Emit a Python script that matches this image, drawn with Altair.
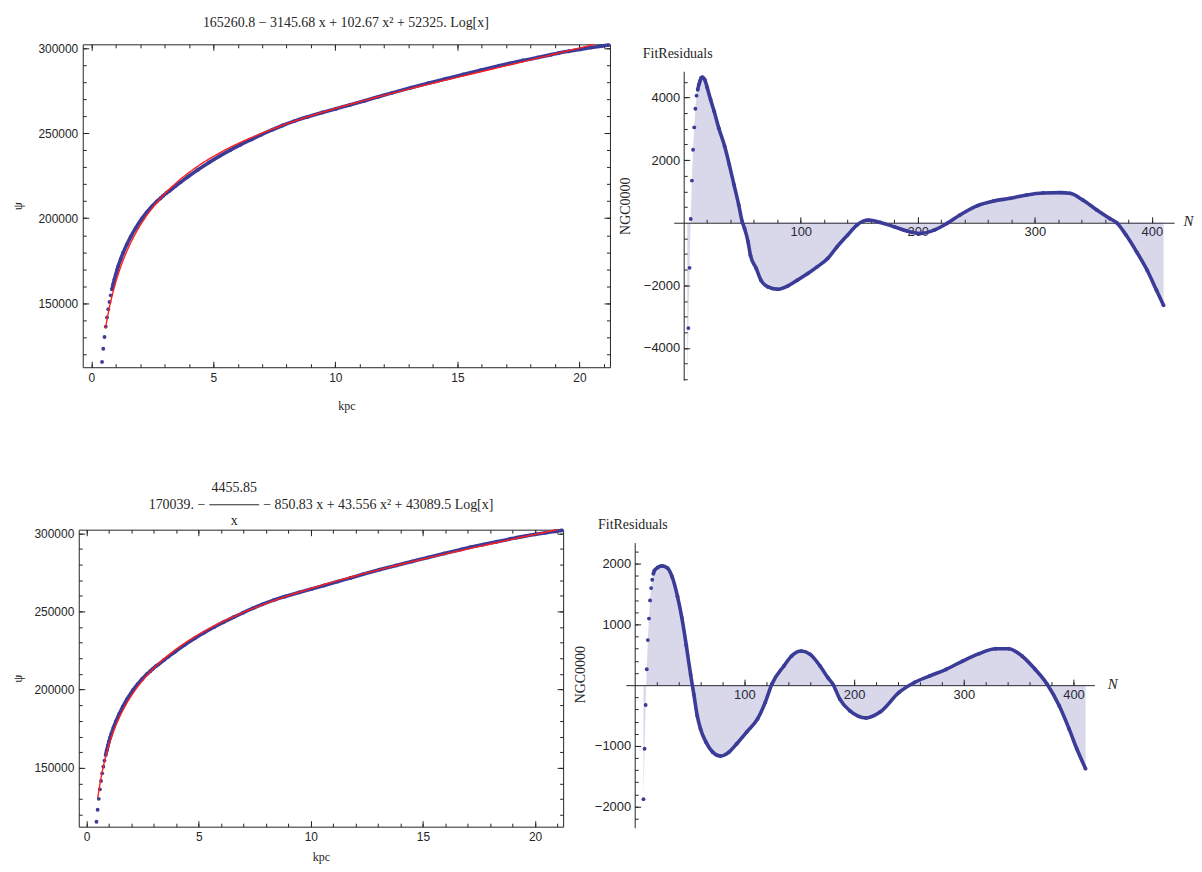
import altair as alt
import numpy as np
import pandas as pd

# ---------------- values ----------------
# FitResiduals of the upper fit: point index N and residual
res1_N = [3, 4, 5, 6, 7, 8, 9, 10, 11, 12, 13, 14, 15, 16, 18, 20, 23, 26, 30, 35,
          39, 43, 47, 50, 52, 55, 57, 62, 66, 72, 80, 89, 97, 106, 114, 123, 131, 140, 148, 158,
          168, 180, 191, 202, 214, 225, 236, 251, 265, 279, 293, 307, 322, 330, 341, 353, 364, 370, 378, 387,
          396, 404, 410]
res1_v = [-5500, -3365, -1442, 119, 1346, 2330, 3045, 3643, 4060, 4250, 4420, 4530, 4630, 4647, 4570, 4330, 3930, 3560, 3020, 2440,
          1850, 1210, 570, 32, -182, -609, -1036, -1463, -1837, -2051, -2126, -2019, -1837, -1624, -1410, -1143, -769, -395, -75, 85,
          10, -130, -267, -342, -235, -21, 245, 545, 695, 780, 887, 951, 962, 940, 727, 407, 138, 0, -395, -930,
          -1517, -2158, -2638]
# FitResiduals of the lower fit
res2_N = [8, 9, 10, 11, 12, 13, 14, 15, 16, 17, 18, 21, 25, 30, 34, 39, 43, 47, 51, 54,
          57, 60, 65, 71, 78, 86, 93, 102, 112, 119, 125, 136, 143, 152, 160, 169, 176, 181, 187, 196,
          211, 224, 241, 255, 269, 284, 299, 314, 329, 341, 353, 365, 376, 387, 396, 403, 411]
res2_v = [-1880, -1049, -328, 262, 743, 1098, 1398, 1601, 1738, 1836, 1890, 1940, 1967, 1929, 1792, 1464, 1110, 660, 170, -160,
          -503, -721, -940, -1103, -1169, -1103, -967, -775, -557, -284, 16, 316, 480, 562, 508, 316, 126, 5, -230, -421,
          -541, -440, -120, 44, 153, 262, 398, 519, 601, 601, 481, 262, 16, -339, -721, -1049, -1377]

# radius (kpc) of point N
kpc_first, kpc_step = 0.338, 0.051

# fitted models, as printed above the panels
fit1_coef = [165260.8, -3145.68, 102.67, 52325.0]            # c + a x + b x^2 + l Log[x]
fit2_coef = [170039.0, -4455.85, -850.83, 43.556, 43089.5]   # c + r/x + a x + b x^2 + l Log[x]
fit1_span = [0.58, 20.6]
fit2_span = [0.50, 21.0]

title1 = "165260.8 − 3145.68 x + 102.67 x² + 52325. Log[x]"
title2_left = "170039. −"
title2_num = "4455.85"
title2_den = "x"
title2_right = "− 850.83 x + 43.556 x² + 43089.5 Log[x]"
res_title = "FitResiduals"
res_ylabel = "NGC0000"
res_xlabel = "N"
kpc_label = "kpc"
psi_label = "ψ"

x_major = [0, 5, 10, 15, 20]
x_minor = list(range(0, 22))
psi_major = [150000, 200000, 250000, 300000]
psi_minor = list(range(120000, 300001, 10000))
n_major = [100, 200, 300, 400]
n_minor = list(range(20, 420, 20))
r1_major = [-4000, -2000, 2000, 4000]
r1_minor = [v for v in range(-5000, 4801, 500) if v != 0]
r2_major = [-2000, -1000, 1000, 2000]
r2_minor = [v for v in range(-2200, 2201, 200) if v != 0]

# ---------------- derived tables ----------------
def f1(x):
    c, a, b, l = fit1_coef
    return c + a * x + b * x ** 2 + l * np.log(x)

def f2(x):
    c, r, a, b, l = fit2_coef
    return c + r / x + a * x + b * x ** 2 + l * np.log(x)

kpc = kpc_first + kpc_step * (np.array(res1_N) - 1)
pts = pd.DataFrame({"N": res1_N, "kpc": kpc, "psi": f1(kpc) + np.array(res1_v)})
g1 = np.geomspace(fit1_span[0], fit1_span[1], 220)
g2 = np.geomspace(fit2_span[0], fit2_span[1], 220)
fit1 = pd.DataFrame({"kpc": g1, "psi": f1(g1)})
fit2 = pd.DataFrame({"kpc": g2, "psi": f2(g2)})
r1 = pd.DataFrame({"N": res1_N, "r": res1_v})
r2 = pd.DataFrame({"N": res2_N, "r": res2_v})

# ---------------- styling / layout ----------------
W, H = 1186, 856
SERIF = "Liberation Serif"
SANS = "Liberation Sans"
INK = "#262626"
PT = "#3b3b98"
RED = "#ff1f1f"


def V(p):
    return p - 8


def tick_axis(orient, offset, values, size, domain=False):
    return alt.Axis(orient=orient, offset=offset, values=values, tickSize=size, tickColor=INK,
                    tickWidth=1, labels=False, domain=domain, domainColor=INK, domainWidth=1,
                    grid=False, title=None)


def frame_panel(pdata, fdata, xdom, ydom, X, Y, psi_y, kpc_y):
    x0, x1 = V(X[0]), V(X[1])
    yt, yb = V(Y[0]), V(Y[1])
    xs = alt.Scale(domain=xdom, range=[x0, x1], nice=False, zero=False, clamp=True)
    ys = alt.Scale(domain=ydom, range=[yb, yt], nice=False, zero=False, clamp=True)

    lab_x = alt.Axis(orient="bottom", offset=yb - H, values=x_major, tickSize=0, domain=False,
                     grid=False, labelFont=SANS, labelFontSize=12, labelColor=INK, labelPadding=5,
                     labelOverlap=False, labelFlush=False, labelBound=False,
                     format="d", title=kpc_label, titleFont=SERIF, titleFontSize=12,
                     titleFontWeight="normal", titleColor=INK, titleX=(x0 + x1) / 2,
                     titleY=V(kpc_y) - yb, titleBaseline="middle", titleAlign="center")
    lab_y = alt.Axis(orient="left", offset=-x0, values=psi_major, tickSize=0, domain=False,
                     grid=False, labelFont=SANS, labelFontSize=12, labelColor=INK, labelPadding=5,
                     labelOverlap=False, labelFlush=False, labelBound=False,
                     format="d", title=psi_label, titleFont=SERIF, titleFontSize=13,
                     titleFontWeight="normal", titleColor=INK, titleX=V(18) - x0,
                     titleY=V(psi_y), titleAngle=270, titleBaseline="middle", titleAlign="center")

    def enc(ax_x, ax_y):
        return dict(x=alt.X("kpc:Q", scale=xs, axis=ax_x), y=alt.Y("psi:Q", scale=ys, axis=ax_y))

    layers = [
        alt.Chart(pdata).transform_filter(alt.datum.N >= 11).mark_line(
            color=PT, strokeWidth=3.6, interpolate="monotone").encode(**enc(None, None)),
        alt.Chart(pdata).mark_circle(color=PT, size=15, opacity=1).encode(**enc(lab_x, lab_y)),
        alt.Chart(fdata).mark_line(color=RED, strokeWidth=1.4).encode(
            **enc(tick_axis("top", -yb, x_major, 6, True),
                  tick_axis("right", x0 - W, psi_major, 6, True))),
        alt.Chart(fdata).mark_line(opacity=0).encode(
            **enc(tick_axis("bottom", yt - H, x_major, 6, True),
                  tick_axis("left", -x1, psi_major, 6, True))),
        alt.Chart(fdata).mark_line(opacity=0).encode(
            **enc(tick_axis("top", -yb, x_minor, 3.5),
                  tick_axis("right", x0 - W, psi_minor, 3.5))),
        alt.Chart(fdata).mark_line(opacity=0).encode(
            **enc(tick_axis("bottom", yt - H, x_minor, 3.5),
                  tick_axis("left", -x1, psi_minor, 3.5))),
    ]
    return layers


def resid_panel(rdata, xdom, ydom, X, Y, ymaj, ymin, ylab_xy, n_dx, line_from):
    x0, x1 = V(X[0]), V(X[1])
    yt, yb = V(Y[0]), V(Y[1])
    xz = x0 + (0 - xdom[0]) / (xdom[1] - xdom[0]) * (x1 - x0)
    yz = yb - (0 - ydom[0]) / (ydom[1] - ydom[0]) * (yb - yt)
    xs = alt.Scale(domain=xdom, range=[x0, x1], nice=False, zero=False)
    ys = alt.Scale(domain=ydom, range=[yb, yt], nice=False, zero=False, clamp=True)

    lab_x = alt.Axis(orient="bottom", offset=yz - H, values=n_major, tickSize=0, domain=False,
                     grid=False, labelFont=SANS, labelFontSize=13, labelColor=INK, labelPadding=3,
                     labelOverlap=False, labelFlush=False, labelBound=False,
                     format="d", title=res_xlabel, titleFont=SERIF, titleFontSize=15,
                     titleFontStyle="italic", titleFontWeight="normal", titleColor=INK,
                     titleX=x1 + n_dx, titleY=-2, titleAlign="left", titleBaseline="middle",
                     titleAngle=0)
    lab_y = alt.Axis(orient="left", offset=-xz, values=ymaj, tickSize=0, domain=False,
                     grid=False, labelFont=SANS, labelFontSize=13, labelColor=INK, labelPadding=4,
                     labelOverlap=False, labelFlush=False, labelBound=False,
                     format="d", title=res_ylabel, titleFont=SERIF, titleFontSize=14,
                     titleFontWeight="normal", titleColor=INK, titleX=V(ylab_xy[0]) - xz,
                     titleY=V(ylab_xy[1]), titleAngle=270, titleAlign="center",
                     titleBaseline="middle")

    def enc(ax_x, ax_y):
        return dict(x=alt.X("N:Q", scale=xs, axis=ax_x), y=alt.Y("r:Q", scale=ys, axis=ax_y))

    area = alt.Chart(rdata).mark_area(color=PT, opacity=0.2, interpolate="monotone").encode(
        **enc(lab_x, lab_y), y2=alt.datum(0))
    line = alt.Chart(rdata).transform_filter(alt.datum.N >= line_from).mark_line(
        color=PT, strokeWidth=3.6, interpolate="monotone").encode(
        **enc(tick_axis("top", -yz, n_major, 6, True), tick_axis("right", xz - W, ymaj, 6, True)))
    dots = alt.Chart(rdata).transform_filter(alt.datum.r >= ydom[0]).mark_circle(
        color=PT, size=15, opacity=1).encode(
        **enc(tick_axis("top", -yz, n_minor, 3.5), tick_axis("right", xz - W, ymin, 3.5)))
    return [area, line, dots]


def text(s, px, py, size=14, align="center", style="normal", font=SERIF):
    return alt.Chart(pd.DataFrame({"t": [s]})).mark_text(
        align=align, baseline="middle", font=font, fontSize=size, fontStyle=style, color=INK
    ).encode(x=alt.value(V(px)), y=alt.value(V(py)), text="t:N")


def bar(xa, xb, py):
    return alt.Chart(pd.DataFrame({"t": [0]})).mark_rule(color=INK, strokeWidth=1).encode(
        x=alt.value(V(xa)), x2=alt.value(V(xb)), y=alt.value(V(py)))


layers = []
layers += frame_panel(pts, fit1, [-0.35, 21.25], [112300, 302300], (83, 612), (43, 367), 205, 405)
layers += frame_panel(pts, fit2, [-0.35, 21.25], [112300, 302300], (79, 565), (530, 828), 679, 858)
layers += resid_panel(r1, [-8.5, 419], [-5030, 4840], (676, 1178), (70, 380),
                      r1_major, r1_minor, (628, 205), 9, 12)
layers += resid_panel(r2, [-8, 419], [-2350, 2350], (628, 1098), (543, 829),
                      r2_major, r2_minor, (582, 675), 13, 17)

layers += [
    text(title1, 347, 22),
    text(title2_left, 206, 505, align="right"),
    bar(210, 260, 505),
    text(title2_right, 264, 505, align="left"),
    text(title2_num, 235, 488),
    text(title2_den, 235, 521),
    text(res_title, 645, 53, align="left"),
    text(res_title, 600, 525, align="left"),
]

chart = (
    alt.layer(*layers)
    .resolve_scale(x="independent", y="independent")
    .resolve_axis(x="independent", y="independent")
    .properties(width=W, height=H, padding={"left": 0, "top": 0, "right": 0, "bottom": 0})
    .configure_view(stroke=None)
    .configure_axis(grid=False)
)

chart.save("out.html", embed_options={"renderer": "svg", "actions": False})
